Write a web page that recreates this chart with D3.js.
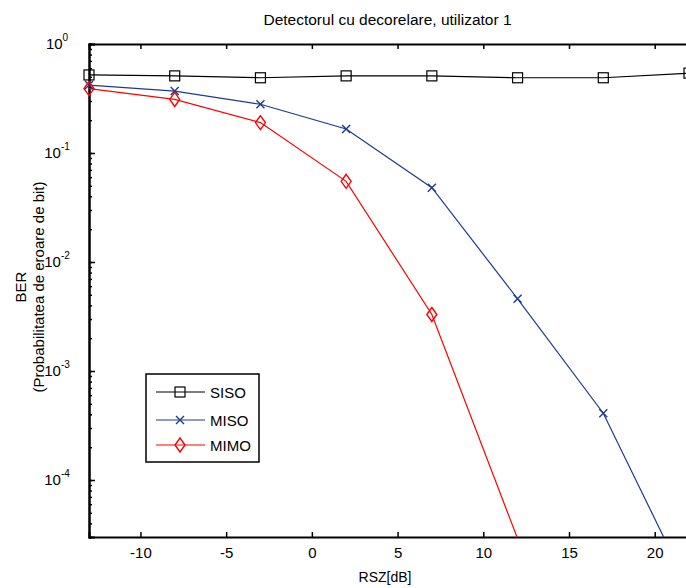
<!DOCTYPE html>
<html><head><meta charset="utf-8">
<script src="https://cdn.jsdelivr.net/npm/d3@7"></script>
<style>body{margin:0;background:#fff;} svg{display:block;font-family:"Liberation Sans",Arial,sans-serif;}</style>
</head><body>
<script>
const xValues = [-13, -8, -3, 2, 7, 12, 17, 22];
const sisoBER = [0.52, 0.51, 0.49, 0.51, 0.51, 0.49, 0.49, 0.54];
const misoBER = [0.42, 0.37, 0.28, 0.166, 0.048, 0.0046, 0.00041, 0.00001];
const mimoBER = [0.39, 0.31, 0.19, 0.055, 0.0033, 0.000029];
const xTicks = [-10, -5, 0, 5, 10, 15, 20];
const yTicksExp = [0, -1, -2, -3, -4];
const seriesNames = ["SISO", "MISO", "MIMO"];
const colors = ["#000000", "#1c3a8e", "#ff0000"];

const W = 686, H = 588;
const m = {left: 89, top: 44, right: 686 + 3, bottom: 537};
const svg = d3.select("body").append("svg").attr("width", W).attr("height", H);
const x = d3.scaleLinear().domain([-13, 22]).range([m.left, m.right]);
const y = d3.scaleLog().domain([3e-5, 1]).range([m.bottom, m.top]);

svg.append("defs").append("clipPath").attr("id", "clip")
  .append("rect").attr("x", m.left).attr("y", m.top).attr("width", m.right - m.left).attr("height", m.bottom - m.top);

// axes
const bottomAxis = d3.axisBottom(x).tickValues(xTicks).tickSize(-5).tickPadding(10).tickFormat(d => String(d));
const gb = svg.append("g").attr("transform", `translate(0,${m.bottom})`).call(bottomAxis);
const topAxis = d3.axisTop(x).tickValues(xTicks).tickSize(-5).tickFormat("");
const gt = svg.append("g").attr("transform", `translate(0,${m.top})`).call(topAxis);
// minor log ticks
const minor = [];
for (let e = -5; e <= 0; e++) for (let k = 1; k <= 9; k++) { const v = k * Math.pow(10, e); if (v >= 3e-5 && v <= 1) minor.push(v); }
const gm = svg.append("g").attr("transform", `translate(${m.left},0)`)
  .call(d3.axisLeft(y).tickValues(minor).tickSize(-3).tickFormat(""));
const gl = svg.append("g").attr("transform", `translate(${m.left},0)`)
  .call(d3.axisLeft(y).tickValues(yTicksExp.map(e => Math.pow(10, e))).tickSize(-6).tickFormat(""));
[gb, gt, gm, gl].forEach(g => {
  g.select(".domain").attr("stroke", "#000").attr("stroke-width", 2);
  g.selectAll(".tick line").attr("stroke", "#000").attr("stroke-width", 1.5);
});
gb.selectAll(".tick text").attr("font-size", 15).attr("fill", "#000").attr("font-family", "Liberation Sans, Arial, sans-serif");

// y tick labels with superscripts
yTicksExp.forEach(e => {
  const t = svg.append("text").attr("x", m.left - 32).attr("y", y(Math.pow(10, e)) + 5)
    .attr("text-anchor", "middle").attr("font-size", 15).attr("fill", "#000");
  t.append("tspan").text("10");
  t.append("tspan").attr("dy", -8).attr("font-size", 10).text(String(e));
});

// lines
const allSeries = [sisoBER, misoBER, mimoBER];
const line = d3.line().x(d => x(d.x)).y(d => y(d.v));
const plot = svg.append("g").attr("clip-path", "url(#clip)");
allSeries.forEach((vals, i) => {
  const pts = vals.map((v, j) => ({x: xValues[j], v}));
  plot.append("path").datum(pts).attr("d", line).attr("fill", "none").attr("stroke", colors[i]).attr("stroke-width", 1.2);
});

function marker(g, type, cx, cy, color) {
  if (type === 0) {
    g.append("rect").attr("x", cx - 5).attr("y", cy - 5).attr("width", 10).attr("height", 10)
      .attr("fill", "none").attr("stroke", color).attr("stroke-width", 1.2);
  } else if (type === 1) {
    g.append("path").attr("d", `M${cx-4},${cy-4}L${cx+4},${cy+4}M${cx-4},${cy+4}L${cx+4},${cy-4}`)
      .attr("stroke", color).attr("stroke-width", 1.4);
  } else {
    g.append("path").attr("d", `M${cx},${cy-7}L${cx+5},${cy}L${cx},${cy+7}L${cx-5},${cy}Z`)
      .attr("fill", "none").attr("stroke", color).attr("stroke-width", 1.4);
  }
}
const mkOuter = svg.append("g");
allSeries.forEach((vals, i) => {
  vals.forEach((v, j) => {
    if (v < 3e-5) return;
    marker(mkOuter, i, x(xValues[j]), y(v), colors[i]);
  });
});

// title and labels
svg.append("text").attr("x", (m.left + 686) / 2).attr("y", 25).attr("text-anchor", "middle")
  .attr("font-size", 15.5).attr("fill", "#000").text("Detectorul cu decorelare, utilizator 1");
svg.append("text").attr("x", 385).attr("y", 582).attr("text-anchor", "middle")
  .attr("font-size", 14).attr("fill", "#000").text("RSZ[dB]");
const yl = svg.append("text").attr("transform", `translate(26,287) rotate(-90)`).attr("text-anchor", "middle")
  .attr("font-size", 15).attr("fill", "#000");
yl.append("tspan").attr("x", 0).attr("dy", 0).text("BER");
yl.append("tspan").attr("x", 0).attr("dy", 18).text("(Probabilitatea de eroare de bit)");

// legend
const lg = svg.append("g");
lg.append("rect").attr("x", 146).attr("y", 374).attr("width", 113).attr("height", 88)
  .attr("fill", "#fff").attr("stroke", "#000").attr("stroke-width", 1.5);
const legY = [392, 420, 445];
seriesNames.forEach((n, i) => {
  lg.append("line").attr("x1", 156).attr("x2", 205).attr("y1", legY[i]).attr("y2", legY[i])
    .attr("stroke", colors[i]).attr("stroke-width", 1.2);
  marker(lg, i, 180, legY[i], colors[i]);
  lg.append("text").attr("x", 210).attr("y", legY[i] + 6).attr("font-size", 15).attr("fill", "#000").text(n);
});
</script>
</body></html>
